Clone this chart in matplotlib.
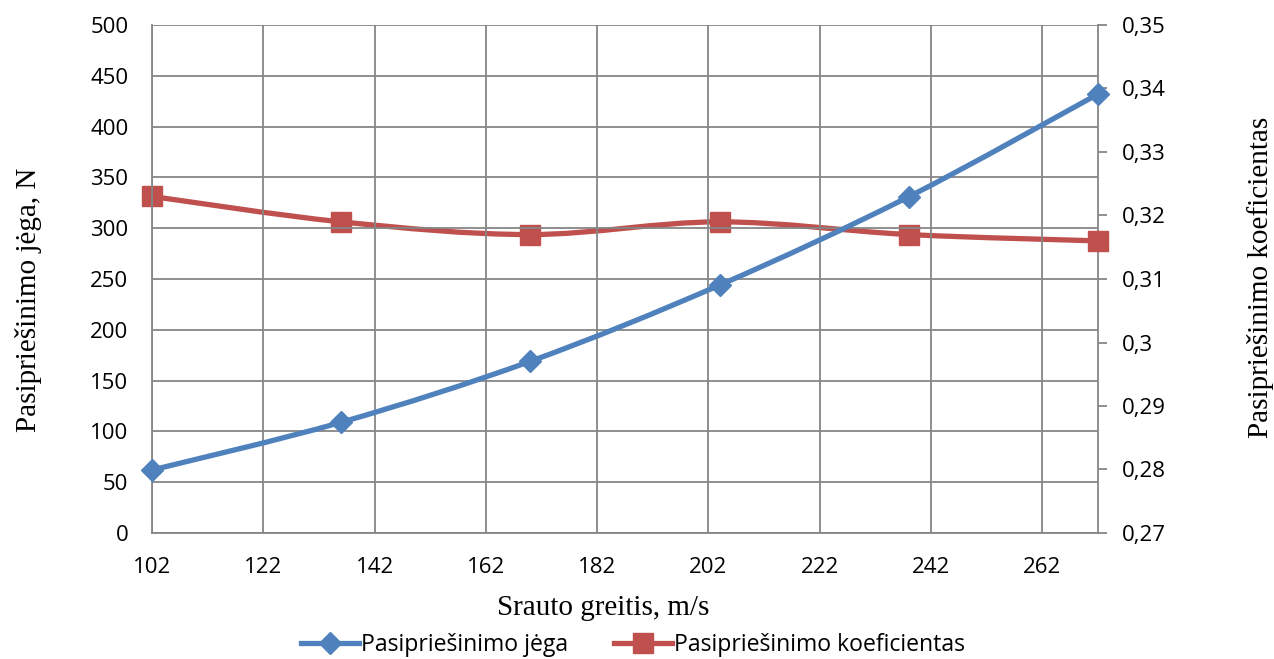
import matplotlib
matplotlib.use("Agg")
import matplotlib.pyplot as plt
import numpy as np
from matplotlib.path import Path
from matplotlib.patches import PathPatch
from matplotlib.lines import Line2D

speed = [102, 136, 170, 204, 238, 272]
force = [62, 109, 169, 244, 331, 432]
coef = [0.323, 0.319, 0.317, 0.319, 0.317, 0.316]
x_ticks = [102, 122, 142, 162, 182, 202, 222, 242, 262]
yl_ticks = [0, 50, 100, 150, 200, 250, 300, 350, 400, 450, 500]
yr_ticks = [0.27, 0.28, 0.29, 0.30, 0.31, 0.32, 0.33, 0.34, 0.35]
yr_labels = ["0,27", "0,28", "0,29", "0,3", "0,31", "0,32", "0,33", "0,34", "0,35"]

BLUE = "#4F81BD"
RED = "#C0504D"
GRID = "#868686"
SANS = "Open Sans"
SERIF = "Liberation Serif"


def smooth_path(xs, ys, t=1 / 6):
    xs = np.asarray(xs, float)
    ys = np.asarray(ys, float)
    verts = [(xs[0], ys[0])]
    codes = [Path.MOVETO]
    n = len(xs)
    for i in range(n - 1):
        x0, y0 = (xs[i - 1], ys[i - 1]) if i > 0 else (xs[i], ys[i])
        x1, y1 = xs[i], ys[i]
        x2, y2 = xs[i + 1], ys[i + 1]
        x3, y3 = (xs[i + 2], ys[i + 2]) if i + 2 < n else (x2, y2)
        c1 = (x1 + (x2 - x0) * t, y1 + (y2 - y0) * t)
        c2 = (x2 - (x3 - x1) * t, y2 - (y3 - y1) * t)
        verts += [c1, c2, (x2, y2)]
        codes += [Path.CURVE4] * 3
    return Path(verts, codes)


fig = plt.figure(figsize=(12.74, 6.59), dpi=100)
ax = fig.add_axes([152 / 1274, 1 - 533 / 659, (1098 - 152) / 1274, (533 - 25) / 659])
ax2 = ax.twinx()

ax.set_xlim(102, 272)
ax.set_ylim(0, 500)
ax2.set_ylim(0.27, 0.35)

ax.set_xticks(x_ticks)
ax.set_yticks(yl_ticks)
ax2.set_yticks(yr_ticks)
ax2.set_yticklabels(yr_labels)

ax.grid(True, color=GRID, linewidth=1.3)
ax.set_axisbelow(True)
for s in ["top", "right"]:
    ax.spines[s].set_visible(False)
for s in ["top", "left"]:
    ax2.spines[s].set_visible(False)
ax.spines["left"].set_color(GRID)
ax.spines["bottom"].set_color(GRID)
ax2.spines["right"].set_color(GRID)
ax2.spines["bottom"].set_visible(False)
for sp in list(ax.spines.values()) + list(ax2.spines.values()):
    sp.set_linewidth(1.3)

ax.tick_params(axis="y", length=0, labelsize=16, pad=17)
ax.tick_params(axis="x", length=0, labelsize=16, pad=17)
ax2.tick_params(axis="y", length=6.5, width=1.3, color=GRID, labelsize=16, pad=11)
for lab in ax.get_xticklabels() + ax.get_yticklabels() + ax2.get_yticklabels():
    lab.set_fontfamily(SANS)

# series
ax.add_patch(PathPatch(smooth_path(speed, force), facecolor="none", edgecolor=BLUE,
                       linewidth=3.8, capstyle="round", zorder=3))
ax.plot(speed, force, linestyle="none", marker="D", markersize=11, color=BLUE,
        zorder=4, clip_on=False)
ax2.add_patch(PathPatch(smooth_path(speed, coef), facecolor="none", edgecolor=RED,
                        linewidth=3.8, capstyle="round", zorder=3))
ax2.plot(speed, coef, linestyle="none", marker="s", markersize=14, color=RED,
         zorder=4, clip_on=False)

ax.set_zorder(ax2.get_zorder() + 1)
ax.patch.set_visible(False)

fig.text(603 / 1274, 1 - 608 / 659, "Srauto greitis, m/s", family=SERIF, fontsize=21,
         ha="center", va="center")
fig.text(29 / 1274, 1 - 300 / 659, "Pasipriešinimo jėga, N", family=SERIF, fontsize=21,
         ha="center", va="center", rotation=90)
fig.text(1260 / 1274, 1 - 277 / 659, "Pasipriešinimo koeficientas", family=SERIF,
         fontsize=21, ha="center", va="center", rotation=90)

handles = [
    Line2D([], [], color=BLUE, linewidth=3.8, marker="D", markersize=11),
    Line2D([], [], color=RED, linewidth=3.8, marker="s", markersize=14),
]
fig.legend(handles, ["Pasipriešinimo jėga", "Pasipriešinimo koeficientas"],
           loc="center", bbox_to_anchor=(633 / 1274, 1 - 645 / 659), ncol=2,
           frameon=False, prop={"family": SANS, "size": 16.6}, handlelength=2.5,
           handletextpad=0.1, columnspacing=2.0, borderaxespad=0)

fig.savefig("out.png", dpi=100)
